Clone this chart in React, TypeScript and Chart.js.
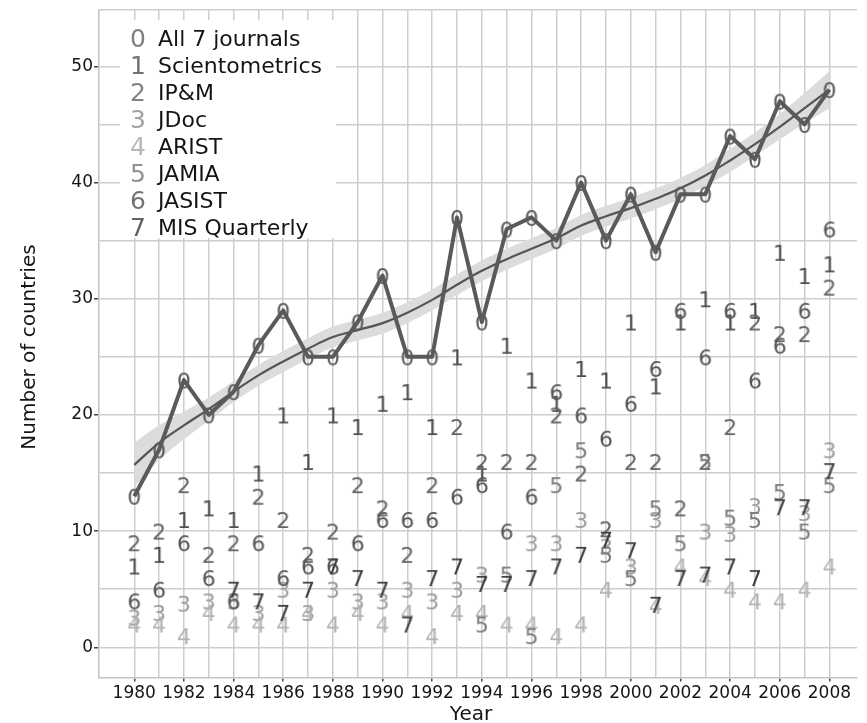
import React, { useEffect, useRef } from 'react';
import { Chart, registerables } from 'chart.js';

Chart.register(...registerables);

// ---------------- data ----------------
const years = [1980, 1981, 1982, 1983, 1984, 1985, 1986, 1987, 1988, 1989, 1990, 1991, 1992, 1993, 1994, 1995, 1996, 1997, 1998, 1999, 2000, 2001, 2002, 2003, 2004, 2005, 2006, 2007, 2008];

const allJournals = [13, 17, 23, 20, 22, 26, 29, 25, 25, 28, 32, 25, 25, 37, 28, 36, 37, 35, 40, 35, 39, 34, 39, 39, 44, 42, 47, 45, 48];
const scientometrics = [7, 8, 11, 12, 11, 15, 20, 16, 20, 19, 21, 22, 19, 25, 15, 26, 23, 21, 24, 23, 28, 22.5, 28, 30, 28, 29, 34, 32, 33];
const ipm = [9, 10, 14, 8, 9, 13, 11, 8, 10, 14, 12, 8, 14, 19, 16, 16, 16, 20, 15, 10.2, 16, 16, 12, 16, 19, 28, 27, 27, 31];
const jdoc = [2.6, 3, 3.8, 4, 4, 3, 5, 3, 5, 4, 4, 5, 4, 5, 6.3, null, 9, 9, 11, 8.7, 7, 11, null, 10, 9.8, 12.2, null, 11.6, 17];
const arist = [2, 2, 1, 3, 2, 2, 2, 3, 2, 3, 2, 3, 1, 3, 3, 2, 2, 1, 2, 5, null, 3.6, 7, 6, 5, 4, 4, 5, 7];
const jamia = [null, null, null, null, null, null, null, null, null, null, null, null, null, null, 2, 6.3, 1, 14, 17, 8, 6, 12, 9, 16, 11.2, 11, 13.4, 10, 14];
const jasist = [4, 5, 9, 6, 4, 9, 6, 7, 7, 9, 11, 11, 11, 13, 14, 10, 13, 22, 20, 18, 21, 24, 29, 25, 29, 23, 26, 29, 36];
const misQuarterly = [null, null, null, null, 5, 4, 3, 5, 7, 6, 5, 2, 6, 7, 5.5, 5.5, 6, 7, 8, 9.3, 8.4, 3.7, 6, 6.3, 7, 6, 12.1, 12.1, 15.2];

const trend = [15.7, 17.6, 19.1, 20.5, 22.0, 23.4, 24.6, 25.7, 26.7, 27.3, 27.9, 28.8, 29.9, 31.2, 32.4, 33.4, 34.3, 35.2, 36.3, 37.1, 37.8, 38.6, 39.5, 40.6, 41.9, 43.3, 44.8, 46.4, 48.0];
const trendUpper = [17.6, 19.1, 20.3, 21.5, 22.9, 24.3, 25.5, 26.6, 27.6, 28.2, 28.8, 29.7, 30.8, 32.1, 33.3, 34.3, 35.2, 36.1, 37.2, 38.0, 38.7, 39.5, 40.4, 41.5, 42.9, 44.3, 45.9, 47.7, 49.6];
const trendLower = [13.8, 16.1, 17.9, 19.5, 21.1, 22.5, 23.7, 24.8, 25.8, 26.4, 27.0, 27.9, 29.0, 30.3, 31.5, 32.5, 33.4, 34.3, 35.4, 36.2, 36.9, 37.7, 38.6, 39.7, 40.9, 42.3, 43.7, 45.1, 46.4];

const seriesNames = ['All 7 journals', 'Scientometrics', 'IP&M', 'JDoc', 'ARIST', 'JAMIA', 'JASIST', 'MIS Quarterly'];
const seriesDigits = ['0', '1', '2', '3', '4', '5', '6', '7'];
const seriesValues = [allJournals, scientometrics, ipm, jdoc, arist, jamia, jasist, misQuarterly];

const yGridValues = [0, 5, 10, 15, 20, 25, 30, 35, 40, 45, 50];
const yLabelValues = [0, 10, 20, 30, 40, 50];
const xLabelValues = [1980, 1982, 1984, 1986, 1988, 1990, 1992, 1994, 1996, 1998, 2000, 2002, 2004, 2006, 2008];

const xTitle = 'Year';
const yTitle = 'Number of countries';

// ---------------- styles ----------------
const FONT = '"DejaVu Sans", Verdana, sans-serif';
const digitColors = ['#5a5a5a', '#4f4f4f', '#646464', '#9c9c9c', '#b3b3b3', '#7a7a7a', '#565656', '#3e3e3e'];
const legendDigitColors = ['#808080', '#727272', '#838383', '#a3a3a3', '#b8b8b8', '#929292', '#737373', '#626262'];

function makeDigit(d: string, color: string, size: number): HTMLCanvasElement {
  const c = document.createElement('canvas');
  const w = Math.ceil(size * 0.8);
  const h = Math.ceil(size * 1.2);
  c.width = w;
  c.height = h;
  const g = c.getContext('2d') as CanvasRenderingContext2D;
  g.font = `${size}px ${FONT}`;
  g.fillStyle = color;
  g.textAlign = 'center';
  g.textBaseline = 'alphabetic';
  const m = g.measureText(d);
  const asc = m.actualBoundingBoxAscent || size * 0.73;
  const desc = m.actualBoundingBoxDescent || 0;
  g.fillText(d, w / 2, h / 2 + (asc - desc) / 2);
  return c;
}

const overlayPlugin = {
  id: 'overlay',
  beforeDatasetsDraw(chart: any) {
    const { ctx, chartArea } = chart;
    const left = chartArea.left + 21;
    const top = chartArea.top + 10;
    ctx.save();
    ctx.fillStyle = '#ffffff';
    ctx.fillRect(left, top, 216, 218);
    const rowH = 27;
    for (let i = 0; i < seriesNames.length; i++) {
      const cy = top + 19 + i * rowH;
      ctx.font = `25px ${FONT}`;
      ctx.fillStyle = legendDigitColors[i];
      ctx.textAlign = 'center';
      ctx.textBaseline = 'middle';
      ctx.fillText(seriesDigits[i], left + 18, cy + 1);
      ctx.font = `22px ${FONT}`;
      ctx.fillStyle = '#151515';
      ctx.textAlign = 'left';
      ctx.fillText(seriesNames[i], left + 38, cy + 1);
    }
    ctx.restore();
  },
  afterDraw(chart: any) {
    const { ctx } = chart;
    ctx.save();
    ctx.fillStyle = '#151515';
    ctx.font = `20px ${FONT}`;
    ctx.textAlign = 'center';
    ctx.textBaseline = 'alphabetic';
    ctx.fillText(xTitle, 471, 720);
    ctx.translate(35, 347);
    ctx.rotate(-Math.PI / 2);
    ctx.fillText(yTitle, 0, 0);
    ctx.restore();
  },
};

export default function App() {
  const ref = useRef<HTMLCanvasElement | null>(null);

  useEffect(() => {
    if (!ref.current) return;
    const toPts = (arr: (number | null)[]) => years.map((x, i) => ({ x, y: arr[i] }));
    const digitImgs = seriesDigits.map((d, i) => makeDigit(d, digitColors[i], 22));

    const datasets: any[] = [
      {
        label: 'band-upper',
        data: toPts(trendUpper),
        borderWidth: 0,
        borderColor: 'rgba(0,0,0,0)',
        pointRadius: 0,
        fill: '+1',
        backgroundColor: '#dcdcdc',
        tension: 0.4,
        order: 21,
      },
      {
        label: 'band-lower',
        data: toPts(trendLower),
        borderWidth: 0,
        borderColor: 'rgba(0,0,0,0)',
        pointRadius: 0,
        fill: false,
        tension: 0.4,
        order: 22,
      },
      {
        label: 'trend',
        data: toPts(trend),
        borderColor: '#555555',
        borderWidth: 2.2,
        pointRadius: 0,
        fill: false,
        tension: 0.4,
        order: 20,
      },
    ];

    seriesValues.forEach((vals, i) => {
      datasets.push({
        label: seriesNames[i],
        data: toPts(vals),
        showLine: i === 0,
        borderColor: '#5a5a5a',
        borderWidth: i === 0 ? 4 : 0,
        borderJoinStyle: 'round',
        tension: 0,
        fill: false,
        pointStyle: digitImgs[i],
        pointRadius: 6,
        spanGaps: false,
        order: i === 0 ? 0 : 8 - i + 1,
      });
    });

    const chart = new Chart(ref.current, {
      type: 'line',
      data: { datasets },
      options: {
        animation: false,
        responsive: false,
        events: [],
        layout: { padding: { top: 10, right: 0, left: 0, bottom: 0 } },
        plugins: { legend: { display: false }, tooltip: { enabled: false } },
        scales: {
          x: {
            type: 'linear',
            min: 1978.58,
            max: 2009.11,
            afterBuildTicks: (s: any) => {
              s.ticks = years.map((v) => ({ value: v }));
            },
            afterFit: (s: any) => {
              s.height = 45.5;
              s.paddingLeft = 0;
              s.paddingRight = 0;
            },
            grid: {
              color: '#cecece',
              lineWidth: 1.5,
              drawTicks: true,
              tickLength: 4,
              tickWidth: 1.5,
              tickColor: (c: any) => (c.tick && xLabelValues.includes(c.tick.value) ? '#444444' : 'rgba(0,0,0,0)'),
            },
            border: { display: true, color: '#c4c4c4', width: 1.5 },
            ticks: {
              autoSkip: false,
              maxRotation: 0,
              minRotation: 0,
              padding: 2,
              color: '#151515',
              font: { family: FONT, size: 17 },
              callback: (v: any) => (xLabelValues.includes(Number(v)) ? String(v) : ''),
            },
          },
          y: {
            type: 'linear',
            min: -2.6,
            max: 54.85,
            afterBuildTicks: (s: any) => {
              s.ticks = [...yGridValues, s.max].map((v) => ({ value: v }));
            },
            afterFit: (s: any) => {
              s.width = 99;
              s.paddingTop = 0;
              s.paddingBottom = 0;
            },
            grid: {
              color: '#cecece',
              lineWidth: 1.5,
              drawTicks: true,
              tickLength: 5,
              tickWidth: 1.5,
              tickColor: (c: any) => (c.tick && yLabelValues.includes(c.tick.value) ? '#444444' : 'rgba(0,0,0,0)'),
            },
            border: { display: true, color: '#c4c4c4', width: 1.5 },
            ticks: {
              padding: 1,
              color: '#151515',
              font: { family: FONT, size: 17 },
              callback: (v: any) => (yLabelValues.includes(Number(v)) ? String(v) : ''),
            },
          },
        },
      },
      plugins: [overlayPlugin],
    } as any);

    return () => chart.destroy();
  }, []);

  return (
    <div style={{ position: 'absolute', left: 0, top: 0, width: 867, height: 723, background: '#ffffff' }}>
      <canvas ref={ref} width={867} height={723} style={{ display: 'block' }} />
    </div>
  );
}
